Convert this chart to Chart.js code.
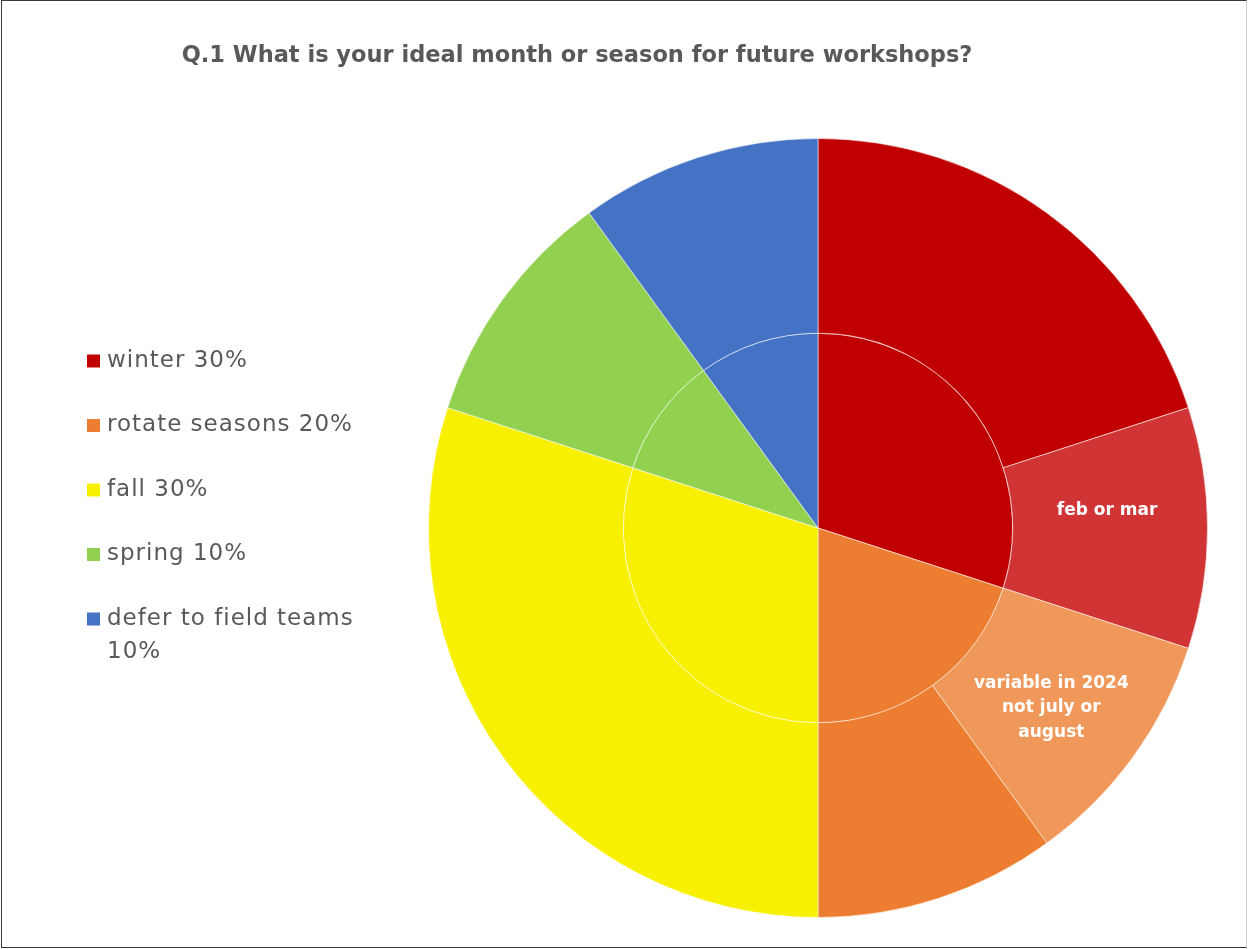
<!DOCTYPE html>
<html>
<head>
<meta charset="utf-8">
<title>Ideal workshop season</title>
<script src="https://cdn.jsdelivr.net/npm/chart.js@4.4.1/dist/chart.umd.min.js"></script>
<style>
  html, body { margin: 0; padding: 0; background: #ffffff; }
  #wrap { position: relative; width: 1248px; height: 949px; }
  #frame { position: absolute; left: 1px; top: 0px; width: 1244px; height: 946px;
           border: 1.5px solid #3a3a3a; border-right-color: #cfcfcf; pointer-events: none; }
</style>
</head>
<body>
<div id="wrap">
  <canvas id="chart" width="1248" height="949"></canvas>
  <div id="frame"></div>
</div>
<script>
// Survey question
const titleText = 'Q.1 What is your ideal month or season for future workshops?';

// Inner ring: main answer per season (percent of respondents)
const seasons = ['winter', 'rotate seasons', 'fall', 'spring', 'defer to field teams'];
const seasonShares = [30, 20, 30, 10, 10];
const seasonColors = ['#C00000', '#ED7D31', '#F7F000', '#92D050', '#4472C4'];

// Outer ring: the same answers broken down by written comments
const detailNames = ['winter', 'winter: feb or mar', 'rotate: variable in 2024', 'rotate seasons', 'fall', 'spring', 'defer to field teams'];
const detailShares = [20, 10, 10, 10, 30, 10, 10];
const detailColors = ['#C00000', '#D03434', '#F0975A', '#ED7D31', '#F7F000', '#92D050', '#4472C4'];
const detailLabelLines = [[], ['feb or mar'], ['variable in 2024', 'not july or', 'august'], [], [], [], []];

const FONT = '"DejaVu Sans", "Noto Sans", sans-serif';
const GREY = '#595959';

// Title, legend and ring labels drawn on the canvas
const decorPlugin = {
  id: 'decor',
  afterDraw(chart) {
    const ctx = chart.ctx;
    ctx.save();

    // title
    ctx.fillStyle = GREY;
    ctx.font = 'bold 22.5px ' + FONT;
    ctx.textAlign = 'center';
    ctx.textBaseline = 'middle';
    ctx.fillText(titleText, 577, 56);

    // legend for the inner ring
    ctx.textAlign = 'left';
    ctx.font = '23px ' + FONT;
    ctx.letterSpacing = '1px';
    const maxW = 270;
    let y = 361;
    seasons.forEach((name, i) => {
      ctx.fillStyle = seasonColors[i];
      ctx.fillRect(87, y - 6.5, 13, 13);
      // wrap words to the legend width
      const words = (name + ' ' + seasonShares[i] + '%').split(' ');
      const lines = [];
      let line = '';
      words.forEach(w => {
        const t = line ? line + ' ' + w : w;
        if (ctx.measureText(t).width > maxW && line) { lines.push(line); line = w; }
        else line = t;
      });
      lines.push(line);
      ctx.fillStyle = GREY;
      lines.forEach((l, k) => ctx.fillText(l, 107, y + k * 33));
      y += 64.5;
    });
    ctx.letterSpacing = '0px';

    // labels inside the outer ring
    const meta = chart.getDatasetMeta(0);
    ctx.fillStyle = '#ffffff';
    ctx.font = 'bold 17px ' + FONT;
    ctx.textAlign = 'center';
    meta.data.forEach((arc, i) => {
      const lines = detailLabelLines[i];
      if (!lines.length) return;
      const p = arc.getCenterPoint();
      const lh = 24.5;
      const y0 = p.y - (lines.length - 1) * lh / 2 + (lines.length === 1 ? -17 : 8);
      lines.forEach((l, k) => ctx.fillText(l, p.x - 3, y0 + k * lh));
    });
    ctx.restore();
  }
};

new Chart(document.getElementById('chart'), {
  type: 'doughnut',
  data: {
    labels: detailNames,
    datasets: [
      {
        label: 'detail',
        data: detailShares,
        backgroundColor: detailColors,
        borderColor: 'rgba(255,255,255,0.55)',
        borderWidth: 1
      },
      {
        label: 'season',
        data: seasonShares,
        backgroundColor: seasonColors,
        borderColor: 'rgba(255,255,255,0.55)',
        borderWidth: 1
      }
    ]
  },
  options: {
    responsive: false,
    animation: false,
    events: [],
    cutout: 0,
    hoverOffset: 0,
    layout: { padding: { left: 428, right: 40, top: 138, bottom: 31 } },
    plugins: {
      legend: { display: false },
      title: { display: false },
      tooltip: { enabled: false }
    }
  },
  plugins: [decorPlugin]
});
</script>
</body>
</html>
